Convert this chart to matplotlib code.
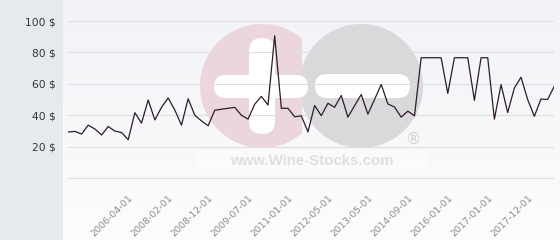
import numpy as np
import matplotlib
matplotlib.use("Agg")
import matplotlib.pyplot as plt
from matplotlib.patches import Circle, FancyBboxPatch, Rectangle

# monthly-ish price points (USD)
prices = [29.3, 29.7, 28.0, 33.7, 31.2, 27.4, 32.8, 29.9, 29.0, 24.4,
          41.6, 35.0, 49.7, 37.0, 45.0, 51.0, 43.3, 33.7, 50.5, 40.0,
          36.4, 33.3, 43.2, 43.8, 44.4, 45.0, 40.0, 37.5, 47.0, 52.0,
          46.5, 90.6, 44.4, 44.4, 39.0, 39.6, 29.4, 46.2, 39.7, 47.6,
          45.0, 52.6, 38.8, 46.0, 53.2, 40.7, 50.0, 59.6, 47.2, 45.2,
          38.8, 42.6, 39.6, 76.6, 76.6, 76.6, 76.6, 53.9, 76.6, 76.6,
          76.6, 49.5, 76.6, 76.6, 37.5, 59.5, 41.7, 57.3, 64.2, 50.0,
          39.3, 50.3, 50.0, 58.5]
tick_idx = [9, 15, 21, 27, 33, 39, 45, 51, 57, 63, 69]
tick_labels = ['2006-04-01', '2008-02-01', '2008-12-01', '2009-07-01',
               '2011-01-01', '2012-05-01', '2013-05-01', '2014-09-01',
               '2016-01-01', '2017-01-01', '2017-12-01']
y_ticks = [20, 40, 60, 80, 100]

W, H = 560, 240
fig = plt.figure(figsize=(W / 100, H / 100), dpi=100, facecolor='#e6eaed')

# plot background (light gradient)
bg = fig.add_axes([63 / W, 0, 1 - 63 / W, 1], zorder=0)
grad = np.linspace(0, 1, 100).reshape(-1, 1)
bg.imshow(grad, aspect='auto', extent=[0, 1, 0, 1], origin='upper',
          cmap=matplotlib.colors.LinearSegmentedColormap.from_list('g', ['#f2f3f7', '#fcfcfd']))
bg.axis('off')

# watermark in pixel coordinates
wm = fig.add_axes([0, 0, 1, 1], zorder=1)
wm.set_xlim(0, W)
wm.set_ylim(H, 0)
wm.axis('off')
wm.add_patch(Rectangle((197, 150), 231, 23, color='white', alpha=0.4, lw=0))
pink = Circle((262, 86), 62, color='#ecd6dd', lw=0)
wm.add_patch(pink)
pink.set_clip_path(Rectangle((0, 0), 302, H, transform=wm.transData))
grey = Circle((361, 86), 62, color='#d9d9db', lw=0)
wm.add_patch(grey)
grey.set_clip_path(Rectangle((302, 0), 300, H, transform=wm.transData))
for x0, y0, w, h in [(249, 38, 26, 96), (214, 75, 94, 23), (315, 74, 95, 24)]:
    r = min(w, h) / 2
    wm.add_patch(FancyBboxPatch((x0 + r, y0 + r), w - 2 * r, h - 2 * r,
                                boxstyle='round,pad=%g' % r, color='white', lw=0))
wm.text(312, 161, 'www.Wine-Stocks.com', ha='center', va='center',
        fontsize=10.8, fontweight='bold', family='Liberation Sans', color='#dedede')
wm.text(413, 139, '\u00ae', ha='center', va='center', fontsize=11, color='#d0d0d0')

# main chart
ax = fig.add_axes([68.3 / W, 60.4 / H, 486 / W, 158.6 / H], zorder=2)
ax.patch.set_alpha(0)
x = np.arange(len(prices))
ax.plot(x, prices, color='#2e1b28', lw=0.9, zorder=3)
ax.set_xlim(0, len(prices) - 1)
ax.set_ylim(-1, 100)
for s in ax.spines.values():
    s.set_visible(False)
ax.set_yticks([0] + y_ticks)
ax.set_yticklabels([''] + ['%d $' % v for v in y_ticks])
ax.yaxis.grid(True, color='#dedede', lw=0.8)
ax.tick_params(axis='y', length=0, pad=9, labelsize=7.7, labelcolor='#333333')
ax.set_xticks(tick_idx)
ax.set_xticklabels(tick_labels, rotation=45, ha='right', va='top',
                   rotation_mode='anchor')
ax.tick_params(axis='x', length=0, pad=10, labelsize=6.8, labelcolor='#8c8c8c')

fig.savefig('out.png', dpi=100, facecolor=fig.get_facecolor())
